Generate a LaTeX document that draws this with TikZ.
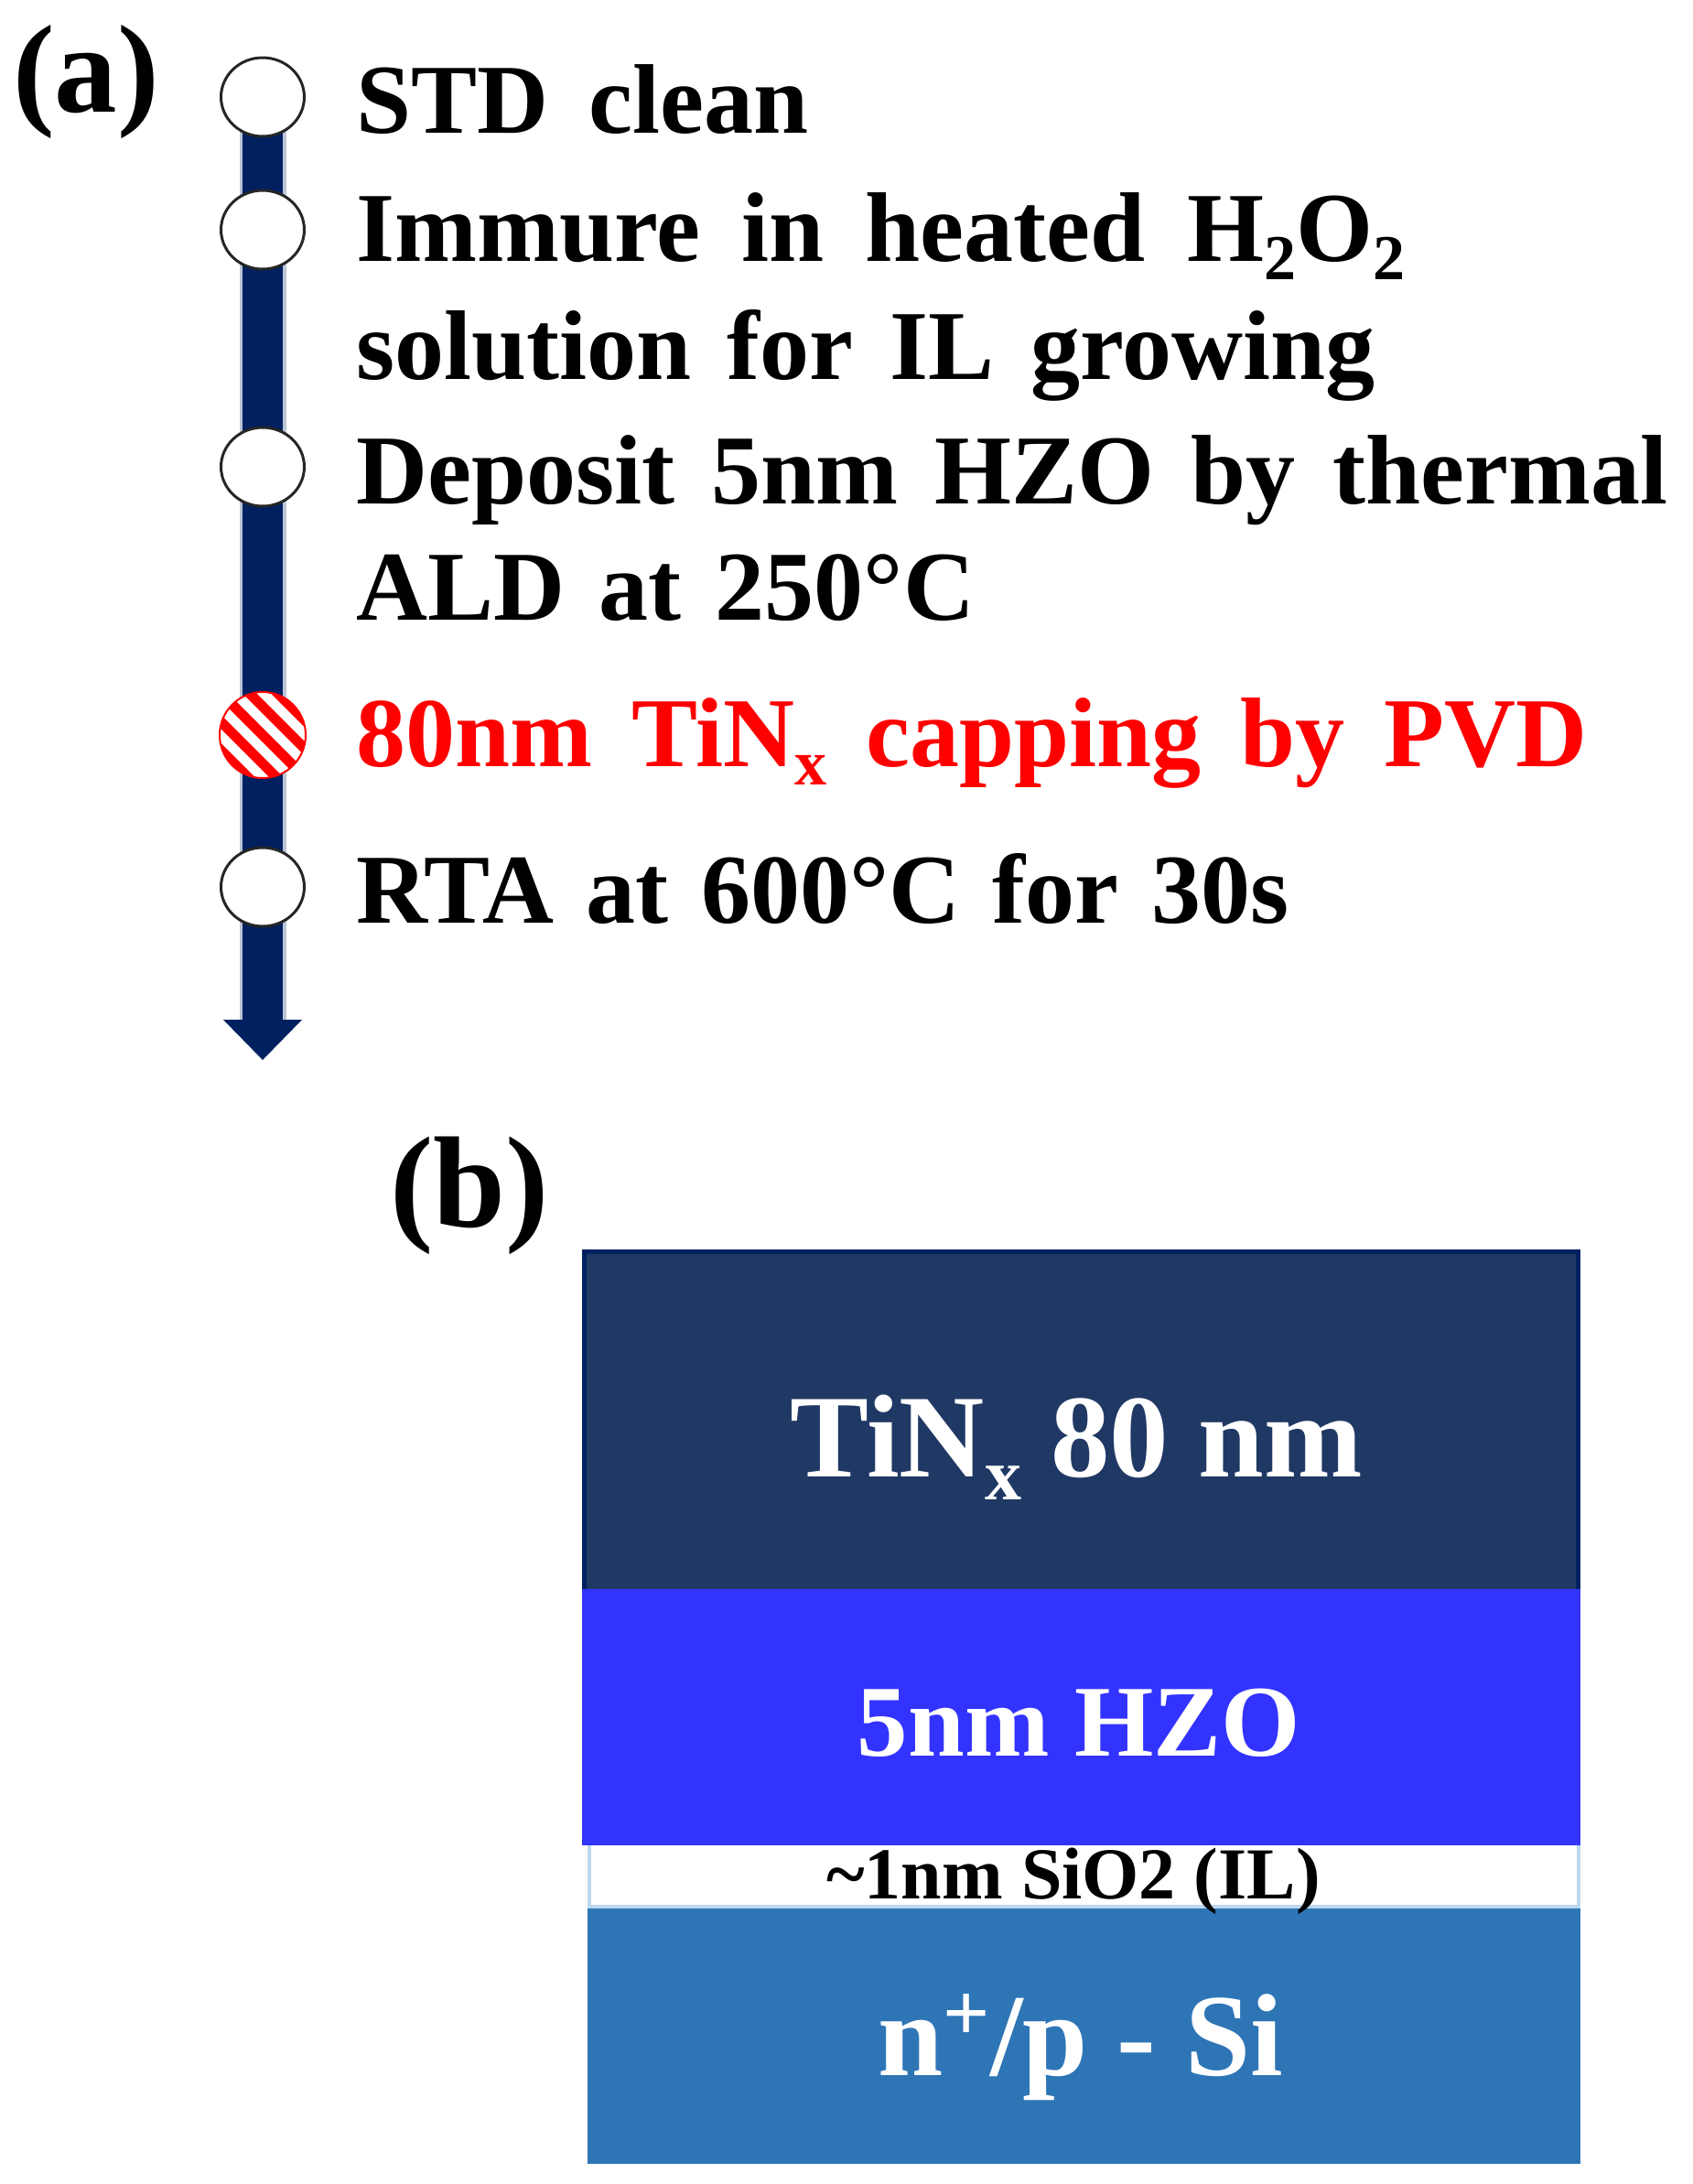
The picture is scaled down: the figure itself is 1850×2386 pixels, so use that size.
\documentclass[tikz,border=0pt]{standalone}
\usepackage{fontspec}
\setmainfont{Liberation Serif}
\usetikzlibrary{shapes.geometric}
\definecolor{navy}{HTML}{002060}
\definecolor{baredge}{HTML}{BCC5D6}
\definecolor{tinfill}{HTML}{203864}
\definecolor{hzofill}{HTML}{3333FF}
\definecolor{ilborder}{HTML}{BDD7EE}
\definecolor{sifill}{HTML}{2E75B6}
\definecolor{stepred}{HTML}{FF0000}
\pgfdeclarelayer{background}
\pgfsetlayers{background,main}
\newcommand{\fsz}[1]{\fontsize{#1}{#1}\selectfont}
\newcommand{\lsub}[1]{\raisebox{-20pt}{\fsz{70}#1}}
\begin{document}
\begin{tikzpicture}[x=1pt,y=-1pt,
  stepdot/.style={ellipse, draw=black!85, line width=3pt, fill=white,
    minimum width=91pt, minimum height=86pt, inner sep=0pt},
  capdot/.style={circle, draw=stepred, line width=2pt, fill=white,
    minimum size=94pt, inner sep=0pt,
    path picture={\foreach \k in {-5,...,5}{
      \draw[stepred, line width=11pt]
        ([shift={(15.56*\k-80,-15.56*\k-80)}]path picture bounding box.center)
        -- ++(160,160);}}},
  steptext/.style={anchor=base west, inner sep=0pt, font=\fsz{108}\bfseries},
  panel/.style={anchor=base west, inner sep=0pt, font=\fsz{137}\bfseries},
  layertext/.style={anchor=base, inner sep=0pt, text=white},
]
\useasboundingbox (0,0) rectangle (1850,2386);

% ---------- (a) process flow ----------
\node[panel] (la) at (14,122) {(a)};

\node[stepdot] (c1) at (287,106) {};
\node[stepdot] (c2) at (287,251) {};
\node[stepdot] (c3) at (287,510) {};
\node[capdot]  (c4) at (287,803) {};
\node[stepdot] (c5) at (287,969) {};

\coordinate (headtop) at (287,1114);
\coordinate (tip) at (287,1158);
\begin{pgfonlayer}{background}
  \draw[baredge, line width=51pt] (c1.center) -- (headtop);
  \draw[navy, line width=44pt] (c1.center) -- (headtop);
  \fill[navy] ([xshift=-43pt]headtop) -- ([xshift=43pt]headtop) -- (tip) -- cycle;
\end{pgfonlayer}

\node[steptext] (t1) at (389,145) {\makebox[494pt][s]{STD clean}};
\node[steptext] (t2) at (389,285) {\makebox[1146pt][s]{Immure in heated H\lsub{2}O\lsub{2}}};
\node[steptext] (t3) at (389,414) {\makebox[1113pt][s]{solution for IL growing}};
\node[steptext] (t4) at (389,550) {\makebox[1433pt][s]{Deposit 5nm HZO by thermal}};
\node[steptext] (t5) at (389,677) {\makebox[676pt][s]{ALD at 250°C}};
\node[steptext, text=stepred] (t6) at (389,837) {\makebox[1345pt][s]{80nm TiN\lsub{x} capping by PVD}};
\node[steptext] (t7) at (389,1008) {\makebox[1019pt][s]{RTA at 600°C for 30s}};

% ---------- (b) gate stack ----------
\node[panel, font=\fsz{142}\bfseries] (lb) at (426,1340) {(b)};

\filldraw[fill=tinfill, draw=navy, line width=5pt] (638.5,1367.5) rectangle (1724.5,1740);
\filldraw[fill=white, draw=ilborder, line width=4pt] (644,2012) rectangle (1725,2083);
\fill[hzofill] (636,1736) rectangle (1727,2016);
\fill[sifill] (642,2085) rectangle (1727,2364);

\node[layertext, font=\fsz{129}\bfseries] (ltin) at (1176,1613)
  {TiN\raisebox{-25pt}{\fsz{80}x} 80 nm};
\node[layertext, font=\fsz{111}\bfseries] (lhzo) at (1179,1918) {5nm HZO};
\node[layertext, text=black, font=\fsz{80}\bfseries] (lil) at (1173,2074)
  {\textasciitilde1nm SiO2 (IL)};
\node[layertext, font=\fsz{128}\bfseries] (lsi) at (1181,2267)
  {n\raisebox{38pt}{\fsz{90}+}/p - Si};
\end{tikzpicture}
\end{document}
